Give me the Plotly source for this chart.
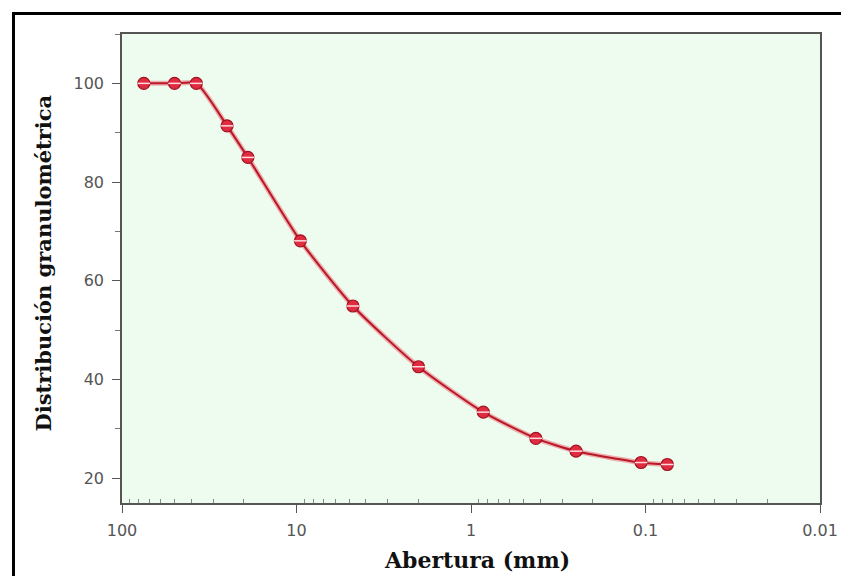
import plotly.graph_objects as go

# Data
abertura_mm = [75, 50, 37.5, 25, 19, 9.5, 4.75, 2.0, 0.85, 0.425, 0.25, 0.106, 0.075]
distribucion = [100, 100, 100, 91.4, 85.0, 68.1, 54.9, 42.6, 33.4, 28.1, 25.5, 23.2, 22.8]

x_tickvals = [100, 10, 1, 0.1, 0.01]
x_ticktext = ["100", "10", "1", "0.1", "0.01"]
y_tickvals = [20, 40, 60, 80, 100]

minor_x = [m * 10 ** e for e in range(-2, 2) for m in range(2, 10)]

W, H = 841, 576
L, R, T, B = 122, 21, 34, 73
pw, ph = W - L - R, H - T - B

fig = go.Figure()
fig.add_trace(go.Scatter(
    x=abertura_mm, y=distribucion, mode="lines",
    line=dict(color="rgba(235,80,95,0.45)", width=5, shape="spline", smoothing=0.6),
    hoverinfo="skip", showlegend=False))
fig.add_trace(go.Scatter(
    x=abertura_mm, y=distribucion, mode="lines+markers",
    line=dict(color="#b81828", width=2, shape="spline", smoothing=0.6),
    marker=dict(symbol="circle", size=12, color="#e02c40",
                line=dict(color="#a01020", width=1.2)),
    showlegend=False))
fig.add_trace(go.Scatter(
    x=abertura_mm, y=distribucion, mode="markers",
    marker=dict(symbol="line-ew", size=9, line=dict(color="#ffd8dc", width=1.5)),
    hoverinfo="skip", showlegend=False))

fig.update_layout(
    width=W, height=H,
    margin=dict(l=L, r=R, t=T, b=B, autoexpand=False),
    paper_bgcolor="white",
    plot_bgcolor="#eefcef",
    font=dict(family="DejaVu Sans, Arial", size=16, color="#555555"),
    xaxis=dict(
        type="log", range=[2, -2], automargin=False,
        tickvals=x_tickvals, ticktext=x_ticktext,
        ticks="outside", ticklen=8, tickwidth=1.2, tickcolor="#555555",
        ticklabelstandoff=4,
        minor=dict(tickvals=minor_x, ticks="inside", ticklen=4, tickcolor="#888888", showgrid=False),
        showline=True, linecolor="#555555", linewidth=1.5, mirror=True,
        showgrid=False, zeroline=False,
        tickfont=dict(size=16, color="#555555"),
    ),
    yaxis=dict(
        range=[15, 110], automargin=False,
        tickvals=y_tickvals,
        ticks="outside", ticklen=8, tickwidth=1.2, tickcolor="#555555",
        ticklabelstandoff=5,
        minor=dict(dtick=10, ticks="outside", ticklen=5, tickcolor="#777777", showgrid=False),
        showline=True, linecolor="#555555", linewidth=1.5, mirror=True,
        showgrid=False, zeroline=False,
        tickfont=dict(size=16, color="#555555"),
    ),
    annotations=[
        dict(text="<b>Abertura (mm)</b>", xref="paper", yref="paper",
             x=(477 - L) / pw, y=-(560 - (H - B)) / ph, xanchor="center", yanchor="middle",
             showarrow=False, font=dict(family="DejaVu Serif, Times New Roman", size=22, color="#111111")),
        dict(text="<b>Distribución granulométrica</b>", xref="paper", yref="paper",
             x=(43 - L) / pw, y=((H - B) - 263.5) / ph, xanchor="center", yanchor="middle",
             textangle=-90, showarrow=False,
             font=dict(family="DejaVu Serif, Times New Roman", size=21, color="#111111")),
    ],
    shapes=[
        dict(type="rect", xref="paper", yref="paper",
             x0=(13.5 - L) / pw, x1=(W + 20 - L) / pw,
             y0=-(H + 20 - (H - B)) / ph, y1=1 + (T - 13.5) / ph,
             line=dict(color="black", width=3), layer="above"),
    ],
)

fig.write_html("out.html")
